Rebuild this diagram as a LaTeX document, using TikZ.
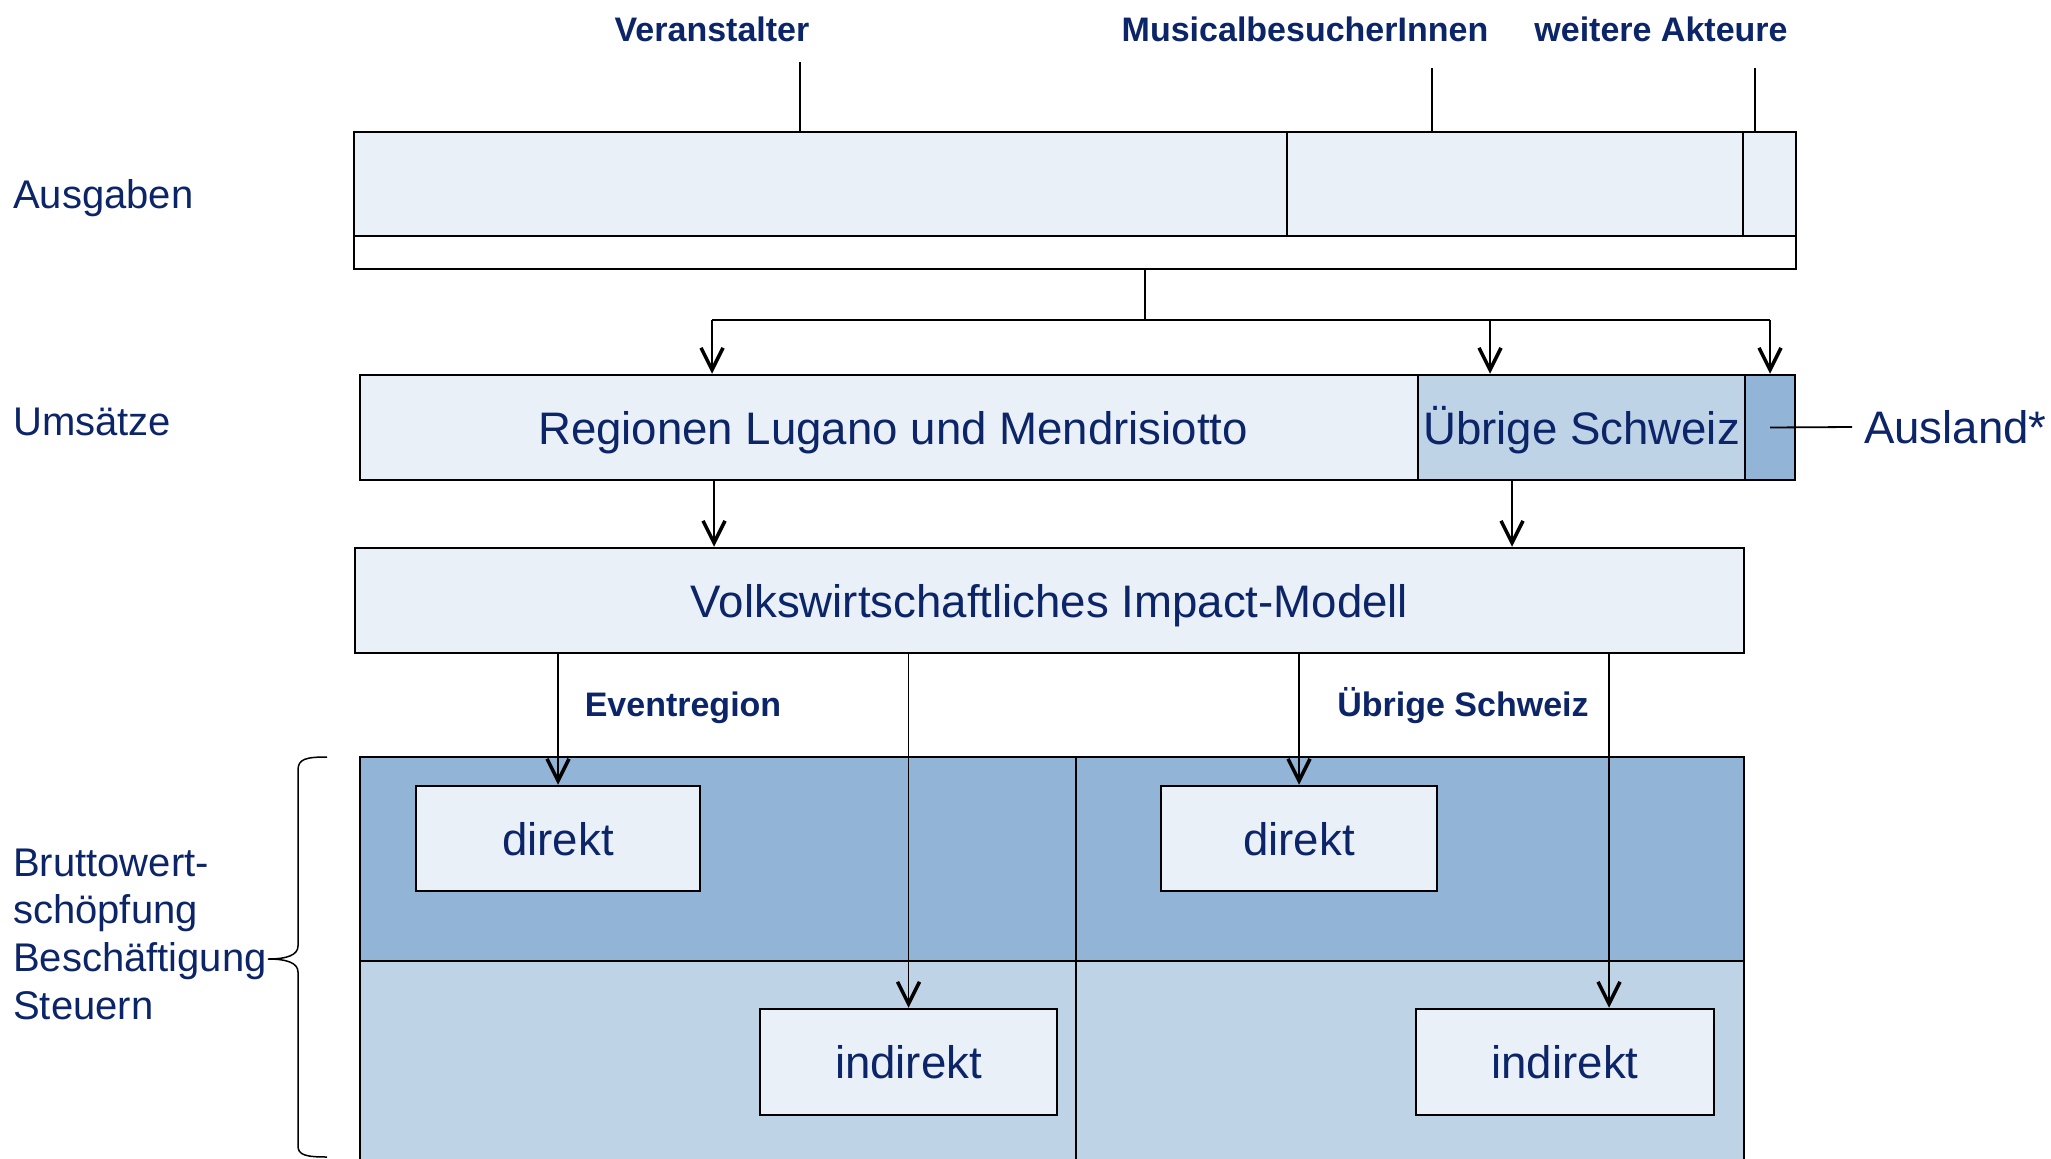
\documentclass[tikz,border=0pt]{standalone}
\usepackage{fontspec}
\setmainfont{Liberation Sans}
\usepackage{xcolor}
\usepackage{tikz}
\usetikzlibrary{arrows.meta, positioning, calc}

\definecolor{Navy}{RGB}{12,36,104}
\definecolor{Pale}{RGB}{233,240,247}
\definecolor{Mid}{RGB}{190,211,230}
\definecolor{Deep}{RGB}{146,180,215}

\begin{document}
\begin{tikzpicture}
  [
    x=1pt, y=-1pt,
    Box/.style={rectangle, draw=black, line width=2.5pt, fill=Pale, inner sep=0pt, text=Navy, text height=33.3pt, text depth=0pt, font=\fontsize{45.6}{54}\selectfont},
    Side/.style={anchor=west, inner sep=0pt, align=left, text=Navy, font=\fontsize{40}{47.7}\selectfont},
    Head/.style={inner sep=0pt, text=Navy, text height=24.8pt, text depth=0pt, font=\bfseries\fontsize{34}{40}\selectfont},
    Line/.style={draw=black, line width=1.8pt},
    Arrow/.style={-{Straight Barb[length=22pt, width=22pt, line width=3.5pt]}, draw=black, line width=1.8pt}
  ]
  \useasboundingbox (0,0) rectangle (2051,1159);

  % Nodes
  \node[Box, minimum width=933pt, minimum height=106pt] (ausV) at (820.5,185) {};
  \node[Box, minimum width=456pt, minimum height=106pt] (ausM) at (1515,185) {};
  \node[Box, minimum width=53pt, minimum height=106pt] (ausW) at (1769.5,185) {};
  \node[Box, fill=white, minimum width=1442pt, minimum height=29pt] (ausSum) at (1075,252.5) {};

  \node[Box, minimum width=1058pt, minimum height=105pt] (regL) at (889,427.5) {\hspace*{8pt}Regionen Lugano und Mendrisiotto};
  \node[Box, fill=Mid, minimum width=327pt, minimum height=105pt] (regM) at (1581.5,427.5) {Übrige Schweiz};
  \node[Box, fill=Deep, minimum width=50pt, minimum height=105pt] (regA) at (1770,427.5) {};
  \node[Side, text height=33.3pt, text depth=0pt, font=\fontsize{45.6}{54}\selectfont] (ausland) at (1864,427) {Ausland*};

  \node[Box, minimum width=1389pt, minimum height=105pt] (volk) at (1049.5,600.5) {Volkswirtschaftliches Impact-Modell};

  \node[Box, fill=Deep, minimum width=1384pt, minimum height=204pt] (bwsTop) at (1052,859) {};
  \node[Box, fill=Mid, minimum width=1384pt, minimum height=219pt] (bwsBot) at (1052,1070.5) {};
  \coordinate (mid) at (1076,0);
  \path [Line] (mid |- bwsTop.north) -- (mid |- bwsBot.south);
  \node[Box, minimum width=284pt, minimum height=105pt] (dirL) at (558,838.5) {direkt};
  \node[Box, minimum width=297pt, minimum height=106pt] (indL) at (908.5,1062) {indirekt};
  \node[Box, minimum width=276pt, minimum height=105pt] (dirR) at (1299,838.5) {direkt};
  \node[Box, minimum width=298pt, minimum height=106pt] (indR) at (1565,1062) {indirekt};

  \node[Side, text height=29.2pt, text depth=0pt] (lAus) at (13,194) {Ausgaben};
  \node[Side, text height=29.2pt, text depth=0pt] (lUms) at (13,421) {Umsätze};
  \node[Side] (lBws) at (13,934) {Bruttowert-\\schöpfung\\Beschäftigung\\Steuern};

  \node[Head] (hVer) at (712,29) {Veranstalter};
  \node[Head] (hMus) at (1305,29) {MusicalbesucherInnen};
  \node[Head] (hAkt) at (1661,29) {weitere Akteure};
  \node[Head] (hEvt) at (683,704) {Eventregion};
  \node[Head] (hUeb) at (1463,704) {Übrige Schweiz};

  % Lines
  \coordinate (tVer) at (800,62);
  \coordinate (tMus) at (1432,68);
  \coordinate (tAkt) at (1755,68);
  \path [Line] (tVer) -- (tVer |- ausV.north);
  \path [Line] (tMus) -- (tMus |- ausM.north);
  \path [Line] (tAkt) -- (tAkt |- ausW.north);

  \coordinate (s0) at (1145,320);
  \coordinate (s1) at (712,320);
  \coordinate (s2) at (1490,320);
  \coordinate (s3) at (1770,320);
  \path [Line] (s0 |- ausSum.south) -- (s0);
  \path [Line] (s1) -- (s3);
  \path [Arrow] (s1) -- (s1 |- regL.north);
  \path [Arrow] (s2) -- (s2 |- regM.north);
  \path [Arrow] (s3) -- (regA.north);

  \path [Line] (regA.center) -- ([xshift=-12pt]ausland.west);

  \coordinate (u1) at (714,0);
  \coordinate (u2) at (1512,0);
  \path [Arrow] (u1 |- regL.south) -- (u1 |- volk.north);
  \path [Arrow] (u2 |- regM.south) -- (u2 |- volk.north);

  \coordinate (e4) at (1609,0);
  \path [Arrow] (dirL.north |- volk.south) -- (dirL.north);
  \path [Arrow] (indL.north |- volk.south) -- (indL.north);
  \path [Arrow] (dirR.north |- volk.south) -- (dirR.north);
  \path [Arrow] (e4 |- volk.south) -- (e4 |- indR.north);

  % Brace
  \path [Line, line width=1.5pt] (327,757) .. controls (306,757) and (298,759) .. (298,770)
    -- (298,946) .. controls (298,955) and (287,959) .. (268,959)
    .. controls (287,959) and (298,963) .. (298,972)
    -- (298,1146) .. controls (298,1155) and (306,1157) .. (327,1157);

\end{tikzpicture}
\end{document}
